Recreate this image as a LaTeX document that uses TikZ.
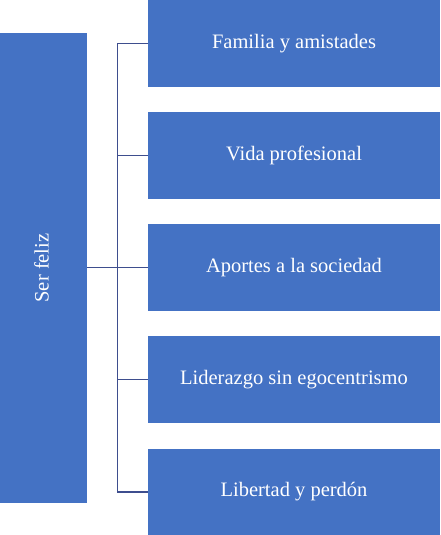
\documentclass[tikz,border=0pt]{standalone}
\usepackage{fontspec}
\setmainfont{Liberation Serif}
\definecolor{boxblue}{RGB}{68,114,196}
\definecolor{linecol}{RGB}{62,78,142}
\begin{document}
\begin{tikzpicture}[x=1pt,y=-1pt,
  bluebox/.style={fill=boxblue,draw=none,inner sep=0pt,outer sep=0pt,text=white,font=\fontsize{20.5}{24}\selectfont,minimum width=292pt,minimum height=87pt,anchor=north west},
  conn/.style={draw=linecol,line width=1.7pt}]
\useasboundingbox (0,0) rectangle (440,535);
\node[fill=boxblue,inner sep=0pt,outer sep=0pt,minimum width=87pt,minimum height=470pt,anchor=north west] (root) at (0,33) {};
\node[text=white,font=\fontsize{20.5}{24}\selectfont,rotate=90] (rootlbl) at ([xshift=-2pt]root.center) {Ser feliz};
\node[bluebox] (b1) at (148,0) {Familia y amistades};
\node[bluebox] (b2) at (148,112) {Vida profesional};
\node[bluebox] (b3) at (148,224) {Aportes a la sociedad};
\node[bluebox] (b4) at (148,336) {Liderazgo sin egocentrismo};
\node[bluebox,minimum height=86pt] (b5) at (148,449) {Libertad y perdón};
\coordinate (spine) at (117.5,0);
\draw[conn] (root.east |- b3.west) -- (b3.west);
\draw[conn] (b1.west) -| (spine |- b5.west) -- (b5.west);
\draw[conn] (spine |- b2.west) -- (b2.west);
\draw[conn] (spine |- b4.west) -- (b4.west);
\end{tikzpicture}
\end{document}
